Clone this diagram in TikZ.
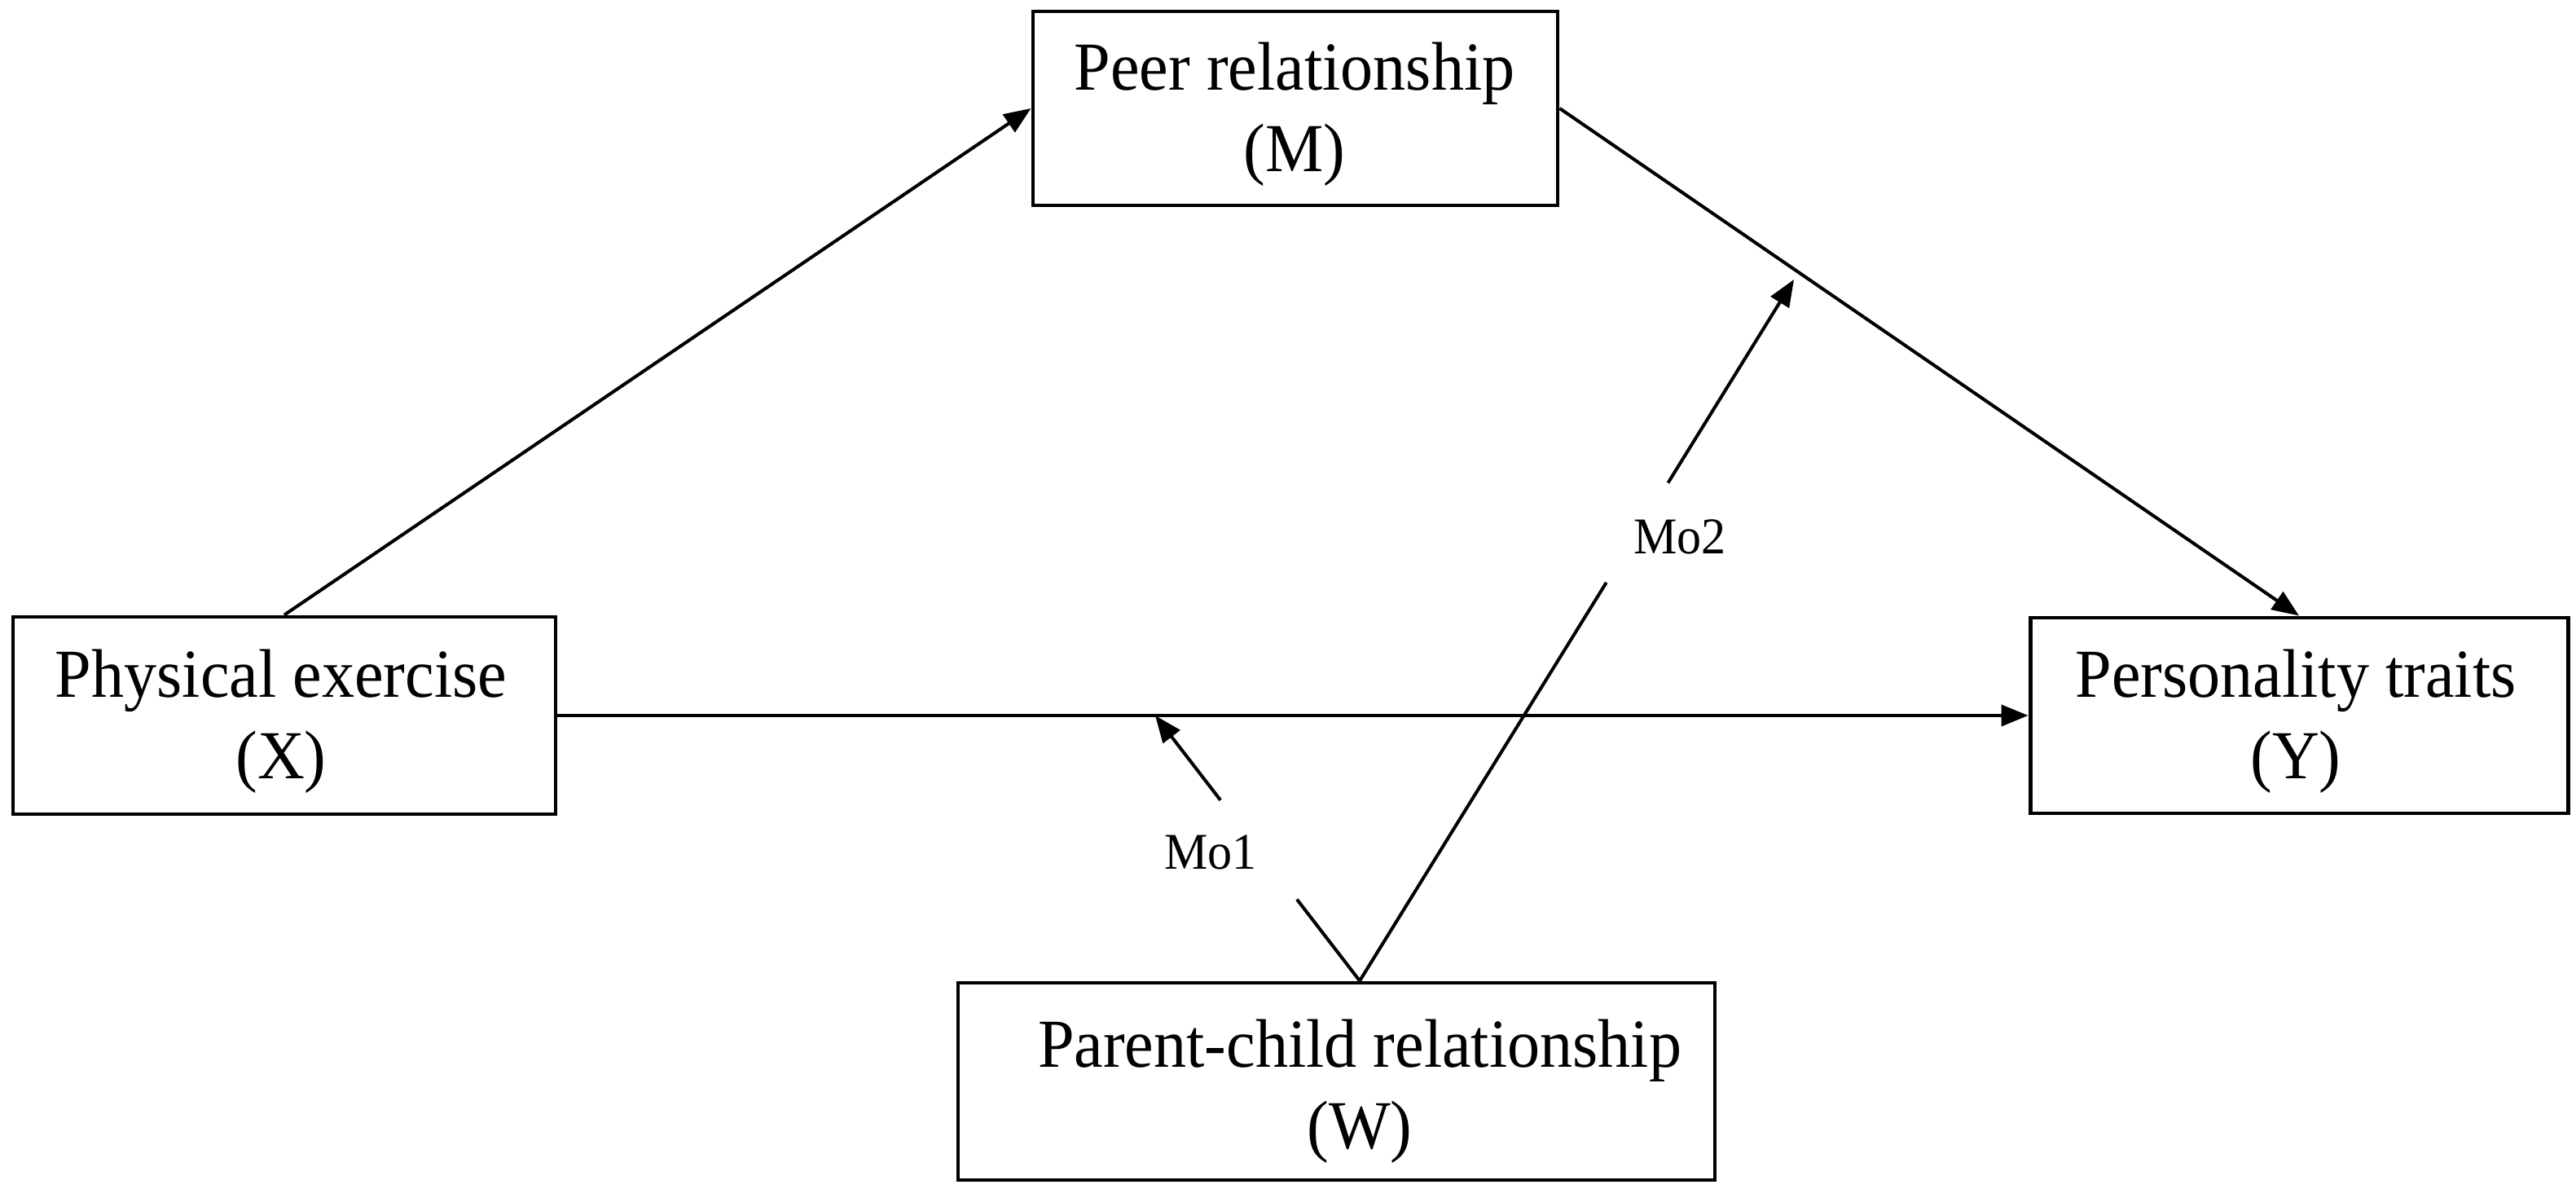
\documentclass[tikz,border=0pt]{standalone}
\usepackage{fontspec}
\setmainfont{Liberation Serif}[FakeStretch=0.95]
\usetikzlibrary{arrows.meta,calc}
\begin{document}
\begin{tikzpicture}[
  box/.style={draw=black,line width=1.4pt,rectangle,inner sep=0pt},
  lbl/.style={align=center,font=\fontsize{24}{28.5}\selectfont,inner sep=0pt},
  mo/.style={font=\fontsize{18}{20}\selectfont,inner sep=0pt},
  conn/.style={line width=1.15pt,draw=black},
  arr/.style={conn,-{Triangle[length=0.33cm,width=0.26cm]}}
]
\useasboundingbox (0,0) rectangle (31.62,14.58);
% boxes
\node[box,minimum width=6.66cm,minimum height=2.42cm] (X) at (3.49,5.80) {};
\node[box,minimum width=6.44cm,minimum height=2.38cm] (M) at (15.90,13.25) {};
\node[box,minimum width=6.60cm,minimum height=2.40cm] (Y) at (28.22,5.80) {};
\node[box,minimum width=9.29cm,minimum height=2.42cm] (W) at (16.405,1.31) {};
% texts
\node[lbl] (Xt) at (3.45,5.73) {Physical exercise\\(X)};
\node[lbl] (Mt) at (15.89,13.18) {Peer relationship\\(M)};
\node[lbl] (Yt) at (28.18,5.73) {Personality traits\\(Y)};
\node[lbl] (Wt) at (16.69,1.19) {Parent-child relationship\\(W)};
% main paths
\draw[arr] (X.north) -- (M.west);
\draw[arr] (M.east) -- (Y.north);
\draw[arr] (X.east) -- (Y.west);
% moderation
\coordinate (P) at (Wt |- W.north);
\coordinate (T1) at (14.18,5.80);
\coordinate (T2) at (22.02,11.15);
\draw[conn] (P) -- ($(P)!0.307!(T1)$);
\draw[arr] ($(P)!0.681!(T1)$) -- (T1);
\node[mo] (mo1) at (14.86,4.12) {Mo1};
\draw[conn] (P) -- ($(P)!0.568!(T2)$);
\draw[arr] ($(P)!0.710!(T2)$) -- (T2);
\node[mo] (mo2) at (20.62,7.99) {Mo2};
\end{tikzpicture}
\end{document}
